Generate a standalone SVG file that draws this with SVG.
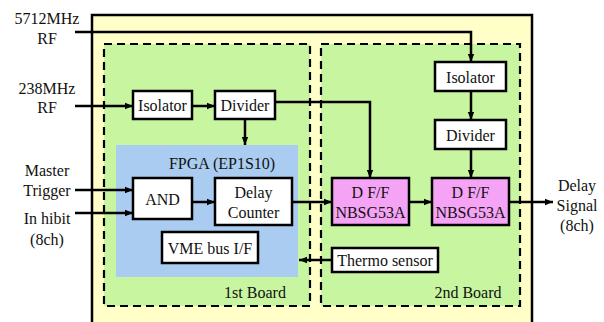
<svg xmlns="http://www.w3.org/2000/svg" width="604" height="322" viewBox="0 0 604 322" font-family="'Liberation Serif', 'DejaVu Serif', serif">
<defs>
<marker id="ah" viewBox="0 0 10 10" refX="10" refY="5" markerWidth="8" markerHeight="8" markerUnits="userSpaceOnUse" orient="auto">
<path d="M0,1 L10,5 L0,9 Z" fill="#000"/>
</marker>
<style>
text{font-family:'Liberation Serif','DejaVu Serif',serif;font-size:16px;fill:#111;text-anchor:middle;dominant-baseline:central}
.box{fill:#fff;stroke:#000;stroke-width:2.5}
.dff{fill:#f5a3f5;stroke:#000;stroke-width:2.5}
.board{fill:#c8f5a0;stroke:#000;stroke-width:2.2;stroke-dasharray:8,5}
.ln{fill:none;stroke:#000;stroke-width:2.5}
.arr{fill:none;stroke:#000;stroke-width:2.5;marker-end:url(#ah)}
</style>
</defs>
<rect width="604" height="322" fill="#fff"/>
<g id="chassis"><rect x="92" y="15" width="440" height="320" fill="#ffffc8" stroke="#000" stroke-width="2.5"/></g>
<g id="board1"><rect x="104" y="44" width="206" height="262" class="board"/><text x="255" y="292">1st Board</text></g>
<g id="board2"><rect x="321" y="44" width="199" height="262" class="board"/><text x="468" y="292">2nd Board</text></g>
<g id="fpga"><rect x="116" y="145" width="182" height="132" fill="#a9ccf0"/><text x="222" y="163">FPGA (EP1S10)</text></g>
<g id="iso1"><rect x="133" y="91" width="59" height="28" class="box"/><text x="162.5" y="105.5">Isolator</text></g>
<g id="div1"><rect x="215" y="91" width="60" height="28" class="box"/><text x="245" y="105.5">Divider</text></g>
<g id="and"><rect x="133" y="178" width="59" height="41" class="box"/><text x="162.5" y="199">AND</text></g>
<g id="delay"><rect x="215" y="178" width="77" height="47" class="box"/><text x="253.5" y="192">Delay</text><text x="253.5" y="212">Counter</text></g>
<g id="vme"><rect x="162" y="232" width="96" height="31" class="box"/><text x="210" y="248">VME bus I/F</text></g>
<g id="iso2"><rect x="435" y="62" width="71" height="29" class="box"/><text x="470.5" y="77">Isolator</text></g>
<g id="div2"><rect x="435" y="120" width="71" height="29" class="box"/><text x="470.5" y="135">Divider</text></g>
<g id="dff1"><rect x="332" y="178" width="77" height="47" class="dff"/><text x="370.5" y="192">D F/F</text><text x="370.5" y="212">NBSG53A</text></g>
<g id="dff2"><rect x="432" y="178" width="77" height="47" class="dff"/><text x="470.5" y="192">D F/F</text><text x="470.5" y="212">NBSG53A</text></g>
<g id="thermo"><rect x="332" y="248" width="106" height="24" class="box"/><text x="385" y="260.5">Thermo sensor</text></g>
<g id="labels">
<text x="47" y="18">5712MHz</text><text x="47" y="38">RF</text>
<text x="47" y="88">238MHz</text><text x="47" y="107">RF</text>
<text x="47" y="170">Master</text><text x="47" y="190">Trigger</text>
<text x="47" y="218">In hibit</text><text x="47" y="239">(8ch)</text>
<text x="577" y="185">Delay</text><text x="577" y="205">Signal</text><text x="577" y="225">(8ch)</text>
</g>
<g id="connectors">
<path class="arr" d="M75,32 H471 V62"/>
<path class="arr" d="M471,91 V120"/>
<path class="arr" d="M471,149 V178"/>
<path class="arr" d="M75,106 H133"/>
<path class="arr" d="M192,106 H215"/>
<path class="arr" d="M245,119 V145"/>
<path class="arr" d="M275,102 H370 V178"/>
<path class="arr" d="M75,190 H133"/>
<path class="arr" d="M75,213 H133"/>
<path class="arr" d="M192,202 H215"/>
<path class="arr" d="M292,202 H332"/>
<path class="arr" d="M409,202 H432"/>
<path class="arr" d="M509,202 H553"/>
<path class="arr" d="M332,260 H299"/>
</g>
</svg>
